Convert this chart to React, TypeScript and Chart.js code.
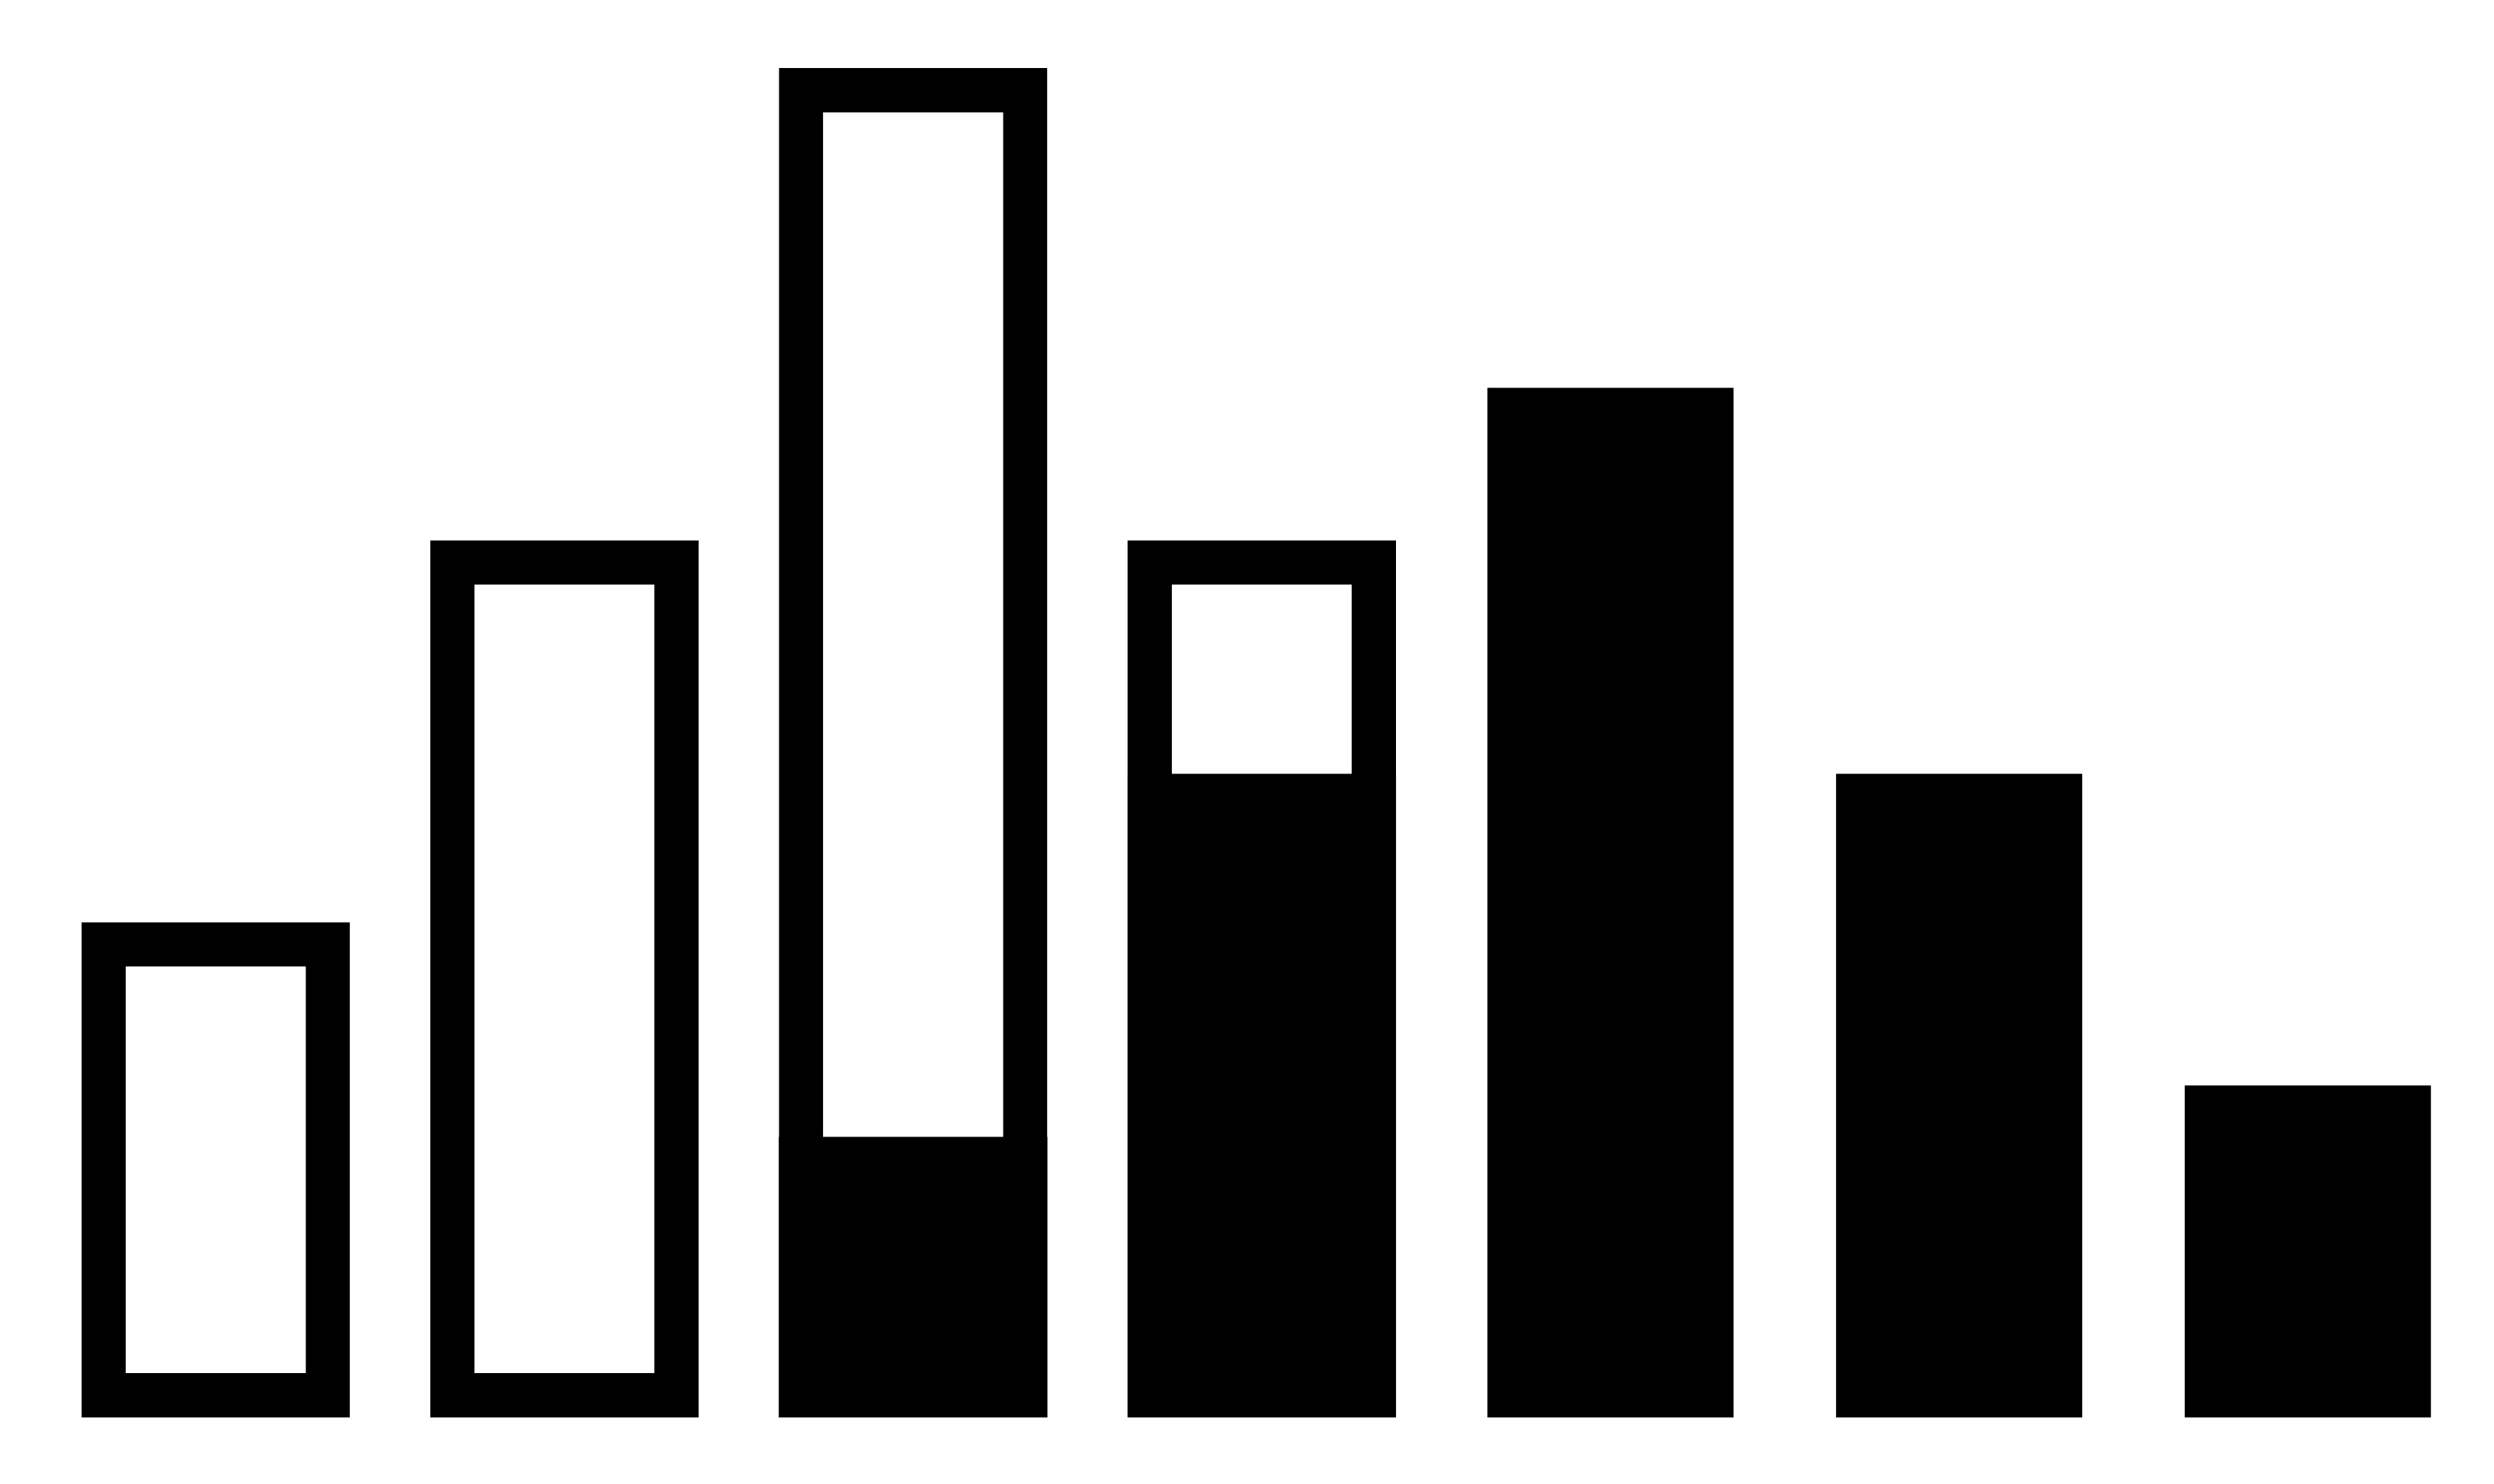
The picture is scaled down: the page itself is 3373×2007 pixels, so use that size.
import { useEffect, useRef } from "react";
import { Chart, registerables } from "chart.js";

Chart.register(...registerables);

// bar positions, left to right
const categories = ["1", "2", "3", "4", "5", "6", "7"];
// full height of the outlined (hollow) bars
const outlineValues = [36.7, 65, 100, 65, null, null, null];
// filled lower part inside outlined bars
const innerFillValues = [null, null, 20.8, 47.7, null, null, null];
// solid bars
const solidValues = [null, null, null, null, 76.3, 47.7, 24.6];

export default function App() {
  const chartRef = useRef<HTMLCanvasElement>(null);
  const chartInstanceRef = useRef<Chart | null>(null);

  useEffect(() => {
    if (!chartRef.current) return;
    if (chartInstanceRef.current) {
      chartInstanceRef.current.destroy();
    }
    const ctx = chartRef.current.getContext("2d");
    if (!ctx) return;

    chartInstanceRef.current = new Chart(ctx, {
      type: "bar",
      data: {
        labels: categories,
        datasets: [
          {
            label: "inner fill",
            data: innerFillValues,
            backgroundColor: "#000000",
            borderWidth: 0,
            grouped: false,
            barPercentage: 0.77,
            categoryPercentage: 1,
            order: 1,
          },
          {
            label: "solid",
            data: solidValues,
            backgroundColor: "#000000",
            borderWidth: 0,
            grouped: false,
            barPercentage: 0.706,
            categoryPercentage: 1,
            order: 1,
          },
          {
            label: "outline",
            data: outlineValues,
            backgroundColor: "#ffffff",
            borderColor: "#000000",
            borderWidth: 60,
            borderSkipped: false,
            grouped: false,
            barPercentage: 0.77,
            categoryPercentage: 1,
            order: 2,
          },
        ],
      },
      options: {
        animation: false,
        responsive: true,
        maintainAspectRatio: false,
        layout: {
          padding: { left: 56, right: 16, top: 92, bottom: 90 },
        },
        plugins: {
          legend: { display: false },
          tooltip: { enabled: false },
        },
        scales: {
          x: { display: false, offset: true },
          y: { display: false, min: 0, max: 100 },
        },
      },
    });

    return () => {
      if (chartInstanceRef.current) {
        chartInstanceRef.current.destroy();
        chartInstanceRef.current = null;
      }
    };
  }, []);

  return (
    <div style={{ position: "fixed", left: 0, top: 0, width: "100vw", height: "100vh", background: "#ffffff" }}>
      <canvas ref={chartRef}></canvas>
    </div>
  );
}
